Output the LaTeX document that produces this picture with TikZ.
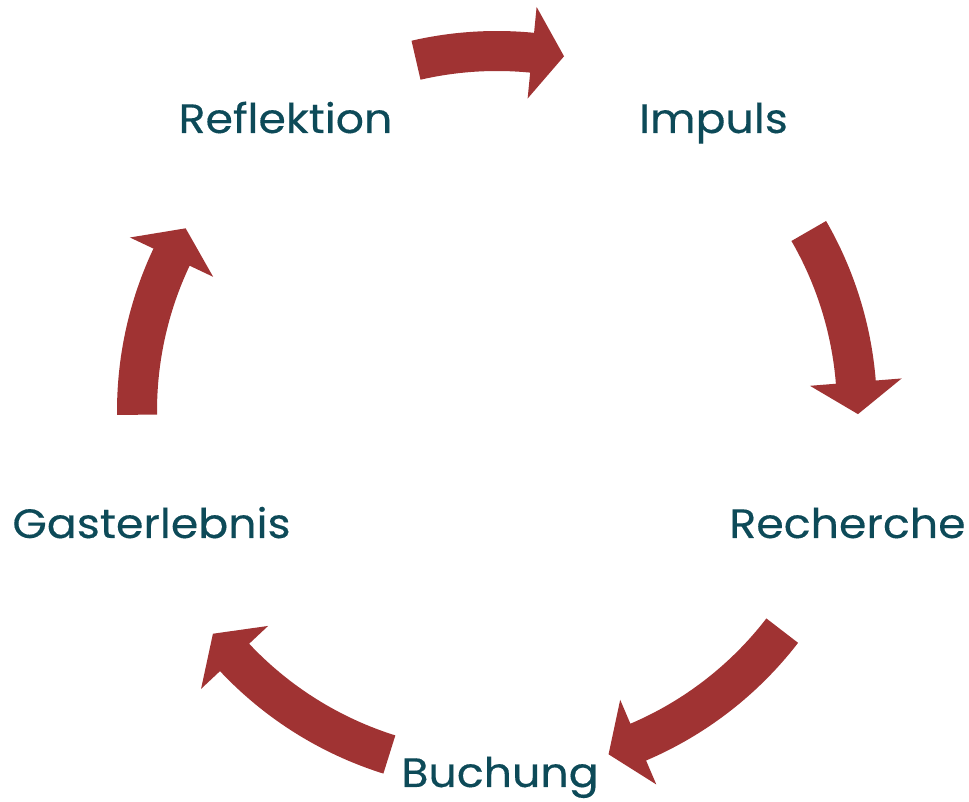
\documentclass[tikz,border=0pt]{standalone}
\usepackage{fontspec}
\setmainfont{Poppins}[FakeStretch=1.08, FakeBold=0.3]
\usetikzlibrary{positioning}

\definecolor{pfeilrot}{HTML}{A03333}
\definecolor{schrift}{HTML}{0D4A58}

% filled arc arrow around the origin: #1 start angle, #2 tip angle
\newcommand{\kreispfeil}[2]{%
  \pgfmathsetmacro{\kopf}{#2+5.1}
  \fill[pfeil] (#1:380) arc[start angle=#1, end angle=\kopf, radius=380]
    -- (\kopf:406) -- (#2:361) -- (\kopf:314) -- (\kopf:340)
    arc[start angle=\kopf, end angle=#1, radius=340] -- cycle;
}

\begin{document}
\begin{tikzpicture}[
    x=1pt, y=1pt,
    font=\fontsize{41}{49}\selectfont
]
\tikzset{
    phase/.style = {text=schrift, anchor=base, inner sep=0pt},
    pfeil/.style = {fill=pfeilrot}
}
\useasboundingbox (0,0) rectangle (969,802);
\coordinate (mitte) at (497,391);
\node[phase] at (285.5,669) (refl) {Reflektion};
\node[phase] at (713.5,669) (imp) {Impuls};
\node[phase] at (847.5,264) (rech) {Recherche};
\node[phase] at (500,15) (buch) {Buchung};
\node[phase] at (151.5,264) (gast) {Gasterlebnis};
\begin{scope}[shift={(mitte)}]
\kreispfeil{103}{79.3}
\kreispfeil{30}{-0.5}
\kreispfeil{-37.6}{-72}
\kreispfeil{-107.4}{-141.9}
\kreispfeil{180.6}{149.6}
\end{scope}
\end{tikzpicture}
\end{document}
